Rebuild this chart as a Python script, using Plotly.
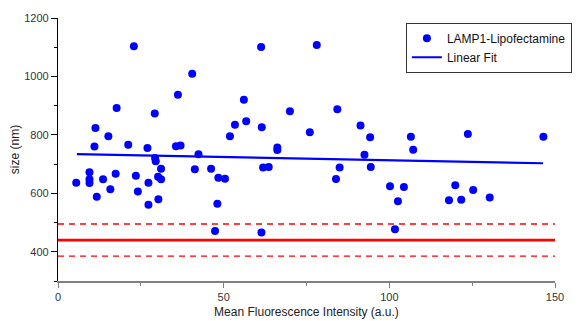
import plotly.graph_objects as go

# Scatter data (Mean Fluorescence Intensity, size in nm)
mfi = [22.9, 40.5, 36.2, 17.7, 29.2, 11.3, 15.2, 11.0, 21.2, 27.0,
       35.6, 37.0, 29.3, 29.5, 31.1, 30.2, 31.1, 9.5, 9.5, 9.5,
       5.5, 13.6, 17.4, 23.5, 27.3, 15.8, 24.1, 11.7, 30.3, 27.3,
       61.3, 78.1, 56.1, 70.0, 53.4, 56.8, 61.5, 51.9, 76.0, 66.2,
       66.2, 42.4, 41.3, 46.2, 48.4, 50.4, 61.9, 63.6, 48.1, 47.4,
       61.4,
       84.3, 91.3, 94.2, 106.5, 107.2, 92.5, 85.0, 94.4, 83.9, 100.2,
       104.4, 102.6, 101.7, 118.0,
       123.7, 146.5, 119.9, 125.3, 121.7, 130.3]
size_nm = [1103, 1009, 937, 892, 873, 824, 795, 760, 766, 755,
           761, 764, 721, 710, 684, 657, 648, 672, 648, 635,
           636, 648, 667, 660, 636, 614, 606, 588, 580, 561,
           1101, 1108, 920, 881, 835, 847, 826, 795, 809, 757,
           748, 734, 682, 684, 653, 650, 688, 690, 564, 471,
           466,
           888, 832, 792, 794, 749, 732, 688, 690, 649, 624,
           622, 573, 477, 576,
           803, 794, 628, 611, 578, 586]

# Linear fit endpoints
fit_x = [5.7, 146.4]
fit_y = [734, 703]

# Reference band
ref_x = [0, 150]
ref_mean = 440
ref_upper = 495
ref_lower = 385

series_name = "LAMP1-Lipofectamine"
fit_name = "Linear Fit"

blue = "#0000FF"
red = "#FF0000"
font_family = "Liberation Sans, Arial, sans-serif"

fig = go.Figure()

fig.add_trace(go.Scatter(
    x=mfi, y=size_nm, mode="markers", name=series_name,
    marker=dict(color=blue, size=8, line=dict(width=0)),
))
fig.add_trace(go.Scatter(
    x=fit_x, y=fit_y, mode="lines", name=fit_name,
    line=dict(color=blue, width=2.2),
))
fig.add_trace(go.Scatter(
    x=ref_x, y=[ref_mean, ref_mean], mode="lines", showlegend=False,
    line=dict(color=red, width=2.6),
))
for v in (ref_upper, ref_lower):
    fig.add_trace(go.Scatter(
        x=ref_x, y=[v, v], mode="lines", showlegend=False,
        line=dict(color=red, width=1.3, dash="6px,5px"),
    ))

# The page body adds an 8px offset; the figure is sized to fit the window.
fig.update_layout(
    width=574, height=313,
    margin=dict(l=50, r=10, t=10, b=40),
    paper_bgcolor="white", plot_bgcolor="white",
    font=dict(family=font_family, size=12, color="#222222"),
    showlegend=True,
    legend=dict(
        x=0.70, xanchor="left", y=0.982, yanchor="top",
        bgcolor="white", bordercolor="#333333", borderwidth=1,
        font=dict(size=12, color="#111111"),
        itemwidth=30, tracegroupgap=0,
    ),
    xaxis=dict(
        range=[0, 150], tick0=0, dtick=50, automargin=False,
        showgrid=False, zeroline=False,
        showline=True, linecolor="#808080", linewidth=1.6,
        ticks="outside", ticklen=5, tickwidth=1, tickcolor="#808080",
        tickfont=dict(size=11, color="#333333"),
        minor=dict(dtick=25, ticks="outside", ticklen=3, tickcolor="#808080", showgrid=False),
        title=dict(text="Mean Fluorescence Intensity (a.u.)", font=dict(size=12, color="#222222"), standoff=6),
    ),
    yaxis=dict(
        range=[300, 1200], tick0=0, dtick=200, automargin=False,
        showgrid=False, zeroline=False,
        showline=True, linecolor="black", linewidth=1.3,
        ticks="outside", ticklen=6, tickwidth=1, tickcolor="black",
        tickfont=dict(size=11, color="#333333"),
        minor=dict(dtick=100, ticks="outside", ticklen=3, tickcolor="black", showgrid=False),
        title=dict(text="size (nm)", font=dict(size=12, color="#222222"), standoff=10),
    ),
)

fig.write_html("out.html")
